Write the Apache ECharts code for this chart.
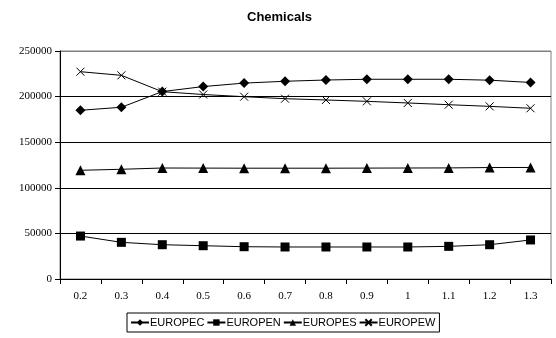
<!DOCTYPE html>
<html><head><meta charset="utf-8">
<script src="https://cdn.jsdelivr.net/npm/echarts@6/dist/echarts.min.js"></script>
<style>html,body{margin:0;padding:0;background:#fff}#c{width:556px;height:338px}</style>
</head><body><div id="c"></div>
<script>
var categories = ['0.2','0.3','0.4','0.5','0.6','0.7','0.8','0.9','1','1.1','1.2','1.3'];
var europec = [185000, 188300, 205500, 211000, 214800, 216800, 218200, 219000, 219000, 219000, 218000, 215500];
var europen = [47100, 40200, 37600, 36500, 35400, 35100, 35100, 35100, 35100, 35800, 37600, 42800];
var europes = [119200, 120300, 121700, 121600, 121500, 121500, 121500, 121600, 121700, 121800, 122200, 122300];
var europew = [227300, 223300, 205400, 202300, 199900, 197700, 196300, 194800, 193000, 191100, 189300, 187200];
var yTicks = [0, 50000, 100000, 150000, 200000, 250000];

var xPath = 'path://M0,0L10,10M10,0L0,10';
function mk(name, data, symbol, size, hollow) {
  return {
    name: name, type: 'line', data: data, symbol: symbol, symbolSize: size,
    showAllSymbol: true,
    lineStyle: {color: '#000', width: 1},
    itemStyle: hollow ? {color: 'rgba(0,0,0,0)', borderColor: '#000', borderWidth: 1} : {color: '#000'},
    emphasis: {disabled: true}, animation: false
  };
}
var chart = echarts.init(document.getElementById('c'), null, {renderer: 'canvas'});
chart.setOption({
  animation: false,
  title: {text: 'Chemicals', left: 242, top: 6,
    textStyle: {fontFamily: 'Liberation Sans, Arial', fontWeight: 'bold', fontSize: 13, color: '#000'}},
  grid: {left: 60, right: 5, top: 51, bottom: 59, show: true, borderColor: '#808080', borderWidth: 1},
  legend: {
    left: 127, top: 313, padding: [4, 4, 4, 3], itemGap: 2, itemWidth: 18, itemHeight: 8,
    borderColor: '#000', borderWidth: 1,
    textStyle: {fontFamily: 'Liberation Sans, Arial', fontSize: 11, color: '#000', padding: [0,0,0,-4]},
    data: ['EUROPEC', 'EUROPEN', 'EUROPES', 'EUROPEW']
  },
  xAxis: {
    type: 'category', data: categories, boundaryGap: true,
    axisLine: {lineStyle: {color: '#000', width: 1}},
    axisTick: {show: true, length: 5, inside: false, lineStyle: {color: '#000'}},
    axisLabel: {fontFamily: 'Liberation Serif, Times New Roman', fontSize: 11, color: '#000', margin: 12}
  },
  yAxis: {
    type: 'value', min: yTicks[0], max: yTicks[yTicks.length - 1], interval: 50000,
    axisLine: {show: true, lineStyle: {color: '#000', width: 1}},
    axisTick: {show: true, length: 5, lineStyle: {color: '#000'}},
    axisLabel: {fontFamily: 'Liberation Serif, Times New Roman', fontSize: 11, color: '#000', margin: 8,
      formatter: function (v) { return String(v); }},
    splitLine: {show: true, lineStyle: {color: ['#000','#000','#000','#000','#000','#808080'], width: 1}}
  },
  series: [
    mk('EUROPEC', europec, 'diamond', 10),
    mk('EUROPEN', europen, 'rect', 9),
    mk('EUROPES', europes, 'triangle', 10),
    mk('EUROPEW', europew, xPath, 8, true)
  ]
});
</script></body></html>
